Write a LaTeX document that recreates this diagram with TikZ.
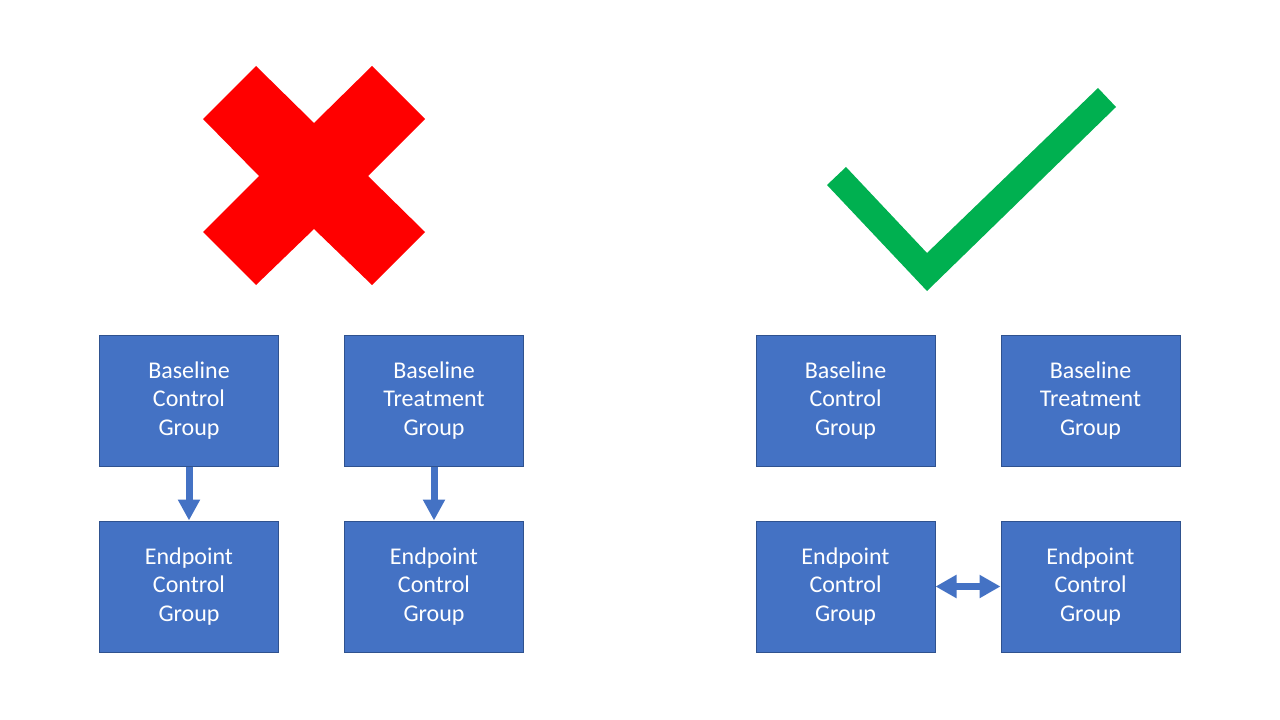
\documentclass[tikz,border=0pt]{standalone}
\usepackage{fontspec}
\setmainfont{Carlito}
\usetikzlibrary{arrows.meta,positioning}
\definecolor{groupblue}{RGB}{68,114,196}
\definecolor{groupedge}{RGB}{47,82,143}
\definecolor{crossred}{RGB}{255,0,0}
\definecolor{tickgreen}{RGB}{0,176,80}

\begin{document}
\begin{tikzpicture}[x=0.75pt,y=-0.75pt,node distance=40.5pt and 48.75pt,
      grp/.style={draw=groupedge,line width=0.75pt,fill=groupblue,text=white,
        minimum width=134.25pt,minimum height=98.25pt,text width=125pt,align=center,
        inner sep=0pt,font=\fontsize{18}{21.5}\selectfont},
      arr/.style={-{Triangle[length=15.75pt,width=15.75pt]},groupblue,line width=5.25pt},
      dblarr/.style={{Triangle[length=15.75pt,width=16.5pt]}-{Triangle[length=15.75pt,width=16.5pt]},
        groupblue,line width=5.25pt}]
    \useasboundingbox (0,0) rectangle (1280,720);
    % wrong: separate arrows in each group
    \fill[crossred] (256,66) -- (314,123) -- (372,66) -- (425,119) -- (368,176)
      -- (425,232) -- (372,285) -- (314,229) -- (256,285) -- (203,232)
      -- (259,176) -- (203,119) -- cycle;
    \node[grp] (bc) at (189,400.5) {Baseline\\Control\\Group};
    \node[grp,right=of bc] (bt) {Baseline\\Treatment\\Group};
    \node[grp,below=of bc] (ec) {Endpoint\\Control\\Group};
    \node[grp,below=of bt] (et) {Endpoint\\Control\\Group};
    \draw[arr] (bc) -- (ec);
    \draw[arr] (bt) -- (et);
    % right: compare the endpoints
    \fill[tickgreen] (827,185) -- (846,167) -- (927,253) -- (1098,88)
      -- (1116,107) -- (927,291) -- cycle;
    \node[grp] (rbc) at (845.5,400.5) {Baseline\\Control\\Group};
    \node[grp,right=of rbc] (rbt) {Baseline\\Treatment\\Group};
    \node[grp,below=of rbc] (rec) {Endpoint\\Control\\Group};
    \node[grp,below=of rbt] (ret) {Endpoint\\Control\\Group};
    \draw[dblarr] (rec) -- (ret);
  \end{tikzpicture}
\end{document}
